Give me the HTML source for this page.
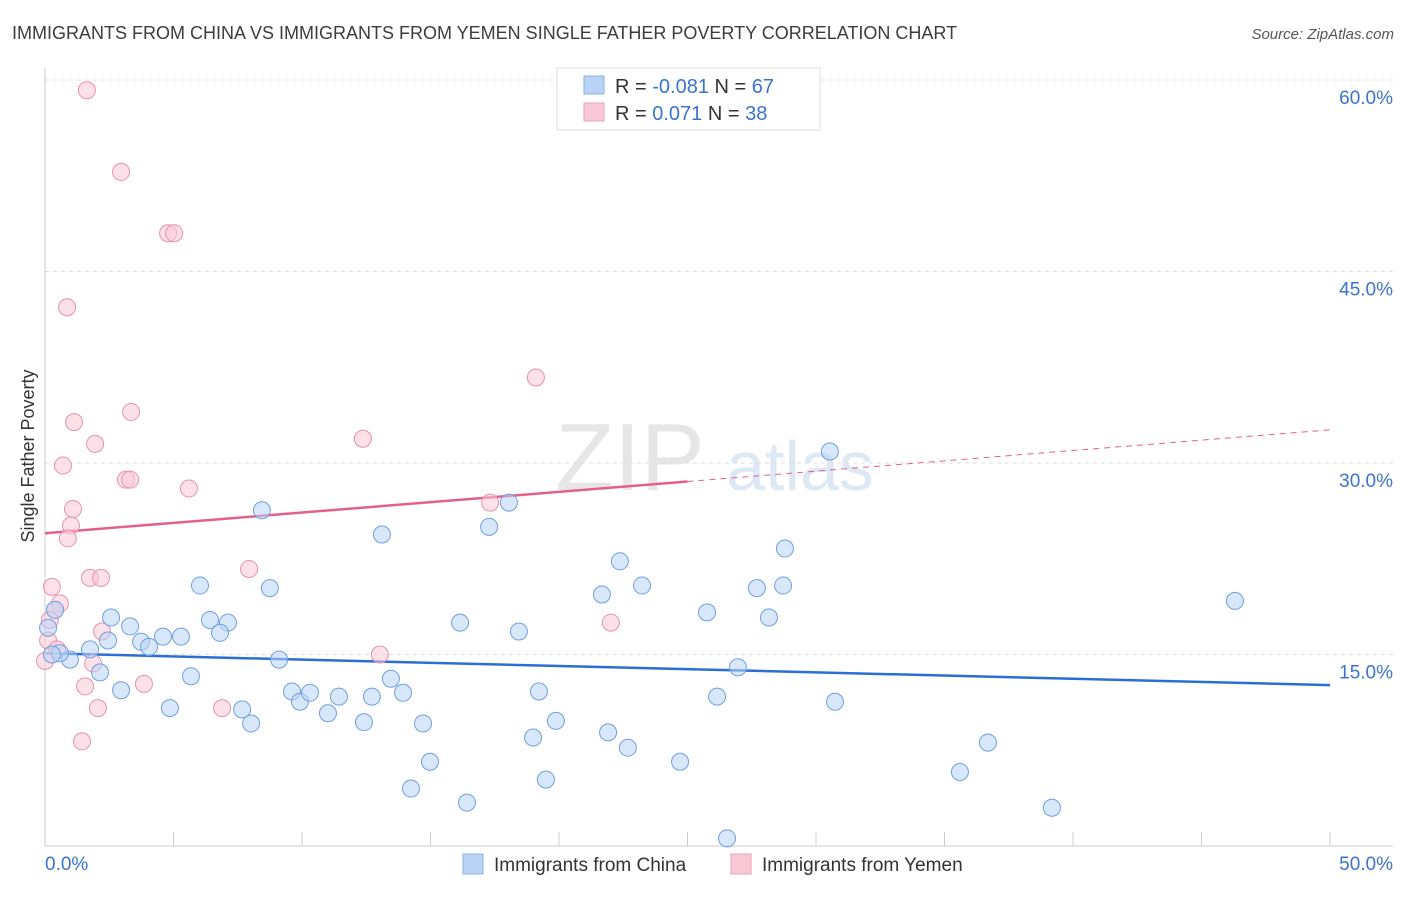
<!DOCTYPE html>
<html><head><meta charset="utf-8"><style>
body{margin:0;background:#fff;font-family:"Liberation Sans",sans-serif;}
svg text{font-family:"Liberation Sans",sans-serif;}
</style></head><body>
<svg id="chart" width="1406" height="892">
<text x="12" y="39" font-size="18" fill="#3c3c3c">IMMIGRANTS FROM CHINA VS IMMIGRANTS FROM YEMEN SINGLE FATHER POVERTY CORRELATION CHART</text>
<text x="1394" y="39" font-size="15" fill="#555" font-style="italic" text-anchor="end">Source: ZipAtlas.com</text>
<text x="630" y="490" font-size="96" fill="#e6e6e6" font-family="Liberation Serif" text-anchor="middle">ZIP</text>
<text x="800" y="490" font-size="70" fill="#dde8f5" text-anchor="middle">atlas</text>
<text transform="translate(34,456) rotate(-90)" font-size="18" fill="#333" text-anchor="middle">Single Father Poverty</text>
<g id="grid"></g><g id="axes"></g><g id="trend"></g><g id="pts"></g>
<g>
<rect x="557" y="68" width="263" height="62" fill="#fff" stroke="#ddd"/>
<rect x="584" y="76" width="20" height="18" fill="#b9d3f5" stroke="#8ab0e6"/>
<rect x="584" y="103" width="20" height="18" fill="#f9c8d6" stroke="#eaa0b8"/>
<text x="615" y="93" font-size="20" fill="#333">R = <tspan fill="#3b73d1">-0.081</tspan>   N = <tspan fill="#3b73d1">67</tspan></text>
<text x="615" y="120" font-size="20" fill="#333">R =   <tspan fill="#3b73d1">0.071</tspan>   N = <tspan fill="#3b73d1">38</tspan></text>
</g>
<g>
<rect x="463" y="854" width="20" height="20" fill="#b9d3f5" stroke="#8ab0e6"/>
<text x="494" y="871" font-size="19" fill="#333">Immigrants from China</text>
<rect x="731" y="854" width="20" height="20" fill="#f9c8d6" stroke="#eaa0b8"/>
<text x="762" y="871" font-size="19" fill="#333">Immigrants from Yemen</text>
</g>
</svg>
<script>
const chinaX=[8.44,13.11,17.28,18.05,30.54,28.79,22.37,23.23,21.67,27.70,28.72,46.30,25.76,28.17,16.15,18.44,6.03,8.75,2.57,3.31,6.42,7.12,6.81,4.59,5.29,3.74,4.05,2.45,1.75,0.97,0.58,0.27,0.12,0.39,2.14,5.68,9.11,26.96,2.96,4.86,7.67,8.02,9.61,9.92,10.31,11.01,11.44,12.41,12.72,13.46,13.93,14.71,14.98,14.24,16.42,18.99,19.22,19.88,19.49,21.91,22.68,24.71,26.15,30.74,35.60,36.69,39.18,26.54];
const chinaY=[26.3,24.4,25.0,26.9,30.9,23.3,22.3,20.4,19.7,20.2,20.4,19.2,18.3,17.9,17.5,16.8,20.4,20.2,17.9,17.2,17.7,17.5,16.7,16.4,16.4,16.0,15.6,16.1,15.4,14.6,15.1,15.0,17.1,18.5,13.6,13.3,14.6,14.0,12.2,10.8,10.7,9.6,12.1,11.3,12.0,10.4,11.7,9.7,11.7,13.1,12.0,9.6,6.6,4.5,3.4,8.5,12.1,9.8,5.2,8.9,7.7,6.6,11.7,11.3,5.8,8.1,3.0,0.6];
const yemenX=[1.63,2.96,4.79,5.02,0.86,19.10,3.35,1.13,1.95,12.37,0.70,3.15,3.31,5.60,1.09,17.32,1.01,0.89,7.94,0.27,1.75,2.18,0.58,0.39,2.22,22.02,0.12,0.47,1.87,0.0,13.03,1.56,3.85,2.06,6.89,1.44,0.19];
const yemenY=[59.2,52.8,48.0,48.0,42.2,36.7,34.0,33.2,31.5,31.9,29.8,28.7,28.7,28.0,26.4,26.9,25.1,24.1,21.7,20.3,21.0,21.0,19.0,18.5,16.8,17.5,16.1,15.4,14.3,14.5,15.0,12.5,12.7,10.8,10.8,8.2,17.7];
const yTicks=[15,30,45,60];
const xTickLabels=["0.0%","50.0%"];
const chinaTrend=[15.1,12.6];
const yemenTrend=[24.5,32.6];
const sx=v=>45+v/50*1285, sy=v=>846-v/15*191.5;
const NS="http://www.w3.org/2000/svg";
function mk(t,a,p){const e=document.createElementNS(NS,t);for(const k in a)e.setAttribute(k,a[k]);p.appendChild(e);return e;}
const grid=document.getElementById('grid'),axes=document.getElementById('axes'),trend=document.getElementById('trend'),pts=document.getElementById('pts');
yTicks.forEach(t=>{
 const l=mk('line',{x1:45,x2:1393,y1:sy(t),y2:sy(t),stroke:'#ddd','stroke-dasharray':'4,4'},grid);
 
 
 const tx=mk('text',{x:1393,y:sy(t)+24,'font-size':19,fill:'#3b73d1','text-anchor':'end'},grid);
 tx.textContent=t.toFixed(1)+'%';
 
 
});
let a=mk('line',{x1:45,x2:45,y1:68,y2:846,stroke:'#ccc'},axes);


a=mk('line',{x1:45,x2:1393,y1:846,y2:846,stroke:'#ccc'},axes);


for(let v=0;v<=50;v+=5){
 const t=mk('line',{x1:sx(v),x2:sx(v),y1:832,y2:846,stroke:'#ccc'},axes);
 
 
}
[[0,'start',45],[50,'end',1393]].forEach((d,i)=>{
 const t=mk('text',{x:d[2],y:870,'font-size':19,fill:'#3b73d1','text-anchor':d[1]},axes);
 t.textContent=xTickLabels[i];
 
 
});
function dots(X,Y,fill,stroke,name){X.forEach((x,i)=>{
 const c=mk('circle',{cx:sx(x),cy:sy(Y[i]),r:8.5,fill:fill,'fill-opacity':0.55,stroke:stroke,'stroke-width':1},pts);
 
 
});}
dots(yemenX,yemenY,'#f9c8d6','#e891ad','yemen-point');
dots(chinaX,chinaY,'#b9d3f5','#6f9fe0','china-point');
let tl=mk('line',{x1:sx(0),y1:sy(chinaTrend[0]),x2:sx(50),y2:sy(chinaTrend[1]),stroke:'#2a6fd6','stroke-width':2.5},trend);


const ym=yemenTrend[0]+(yemenTrend[1]-yemenTrend[0])*0.5;
tl=mk('line',{x1:sx(0),y1:sy(yemenTrend[0]),x2:sx(25),y2:sy(ym),stroke:'#e4608a','stroke-width':2.5},trend);


tl=mk('line',{x1:sx(25),y1:sy(ym),x2:sx(50),y2:sy(yemenTrend[1]),stroke:'#e4608a','stroke-width':1,'stroke-dasharray':'6,5'},trend);


</script>
</body></html>
